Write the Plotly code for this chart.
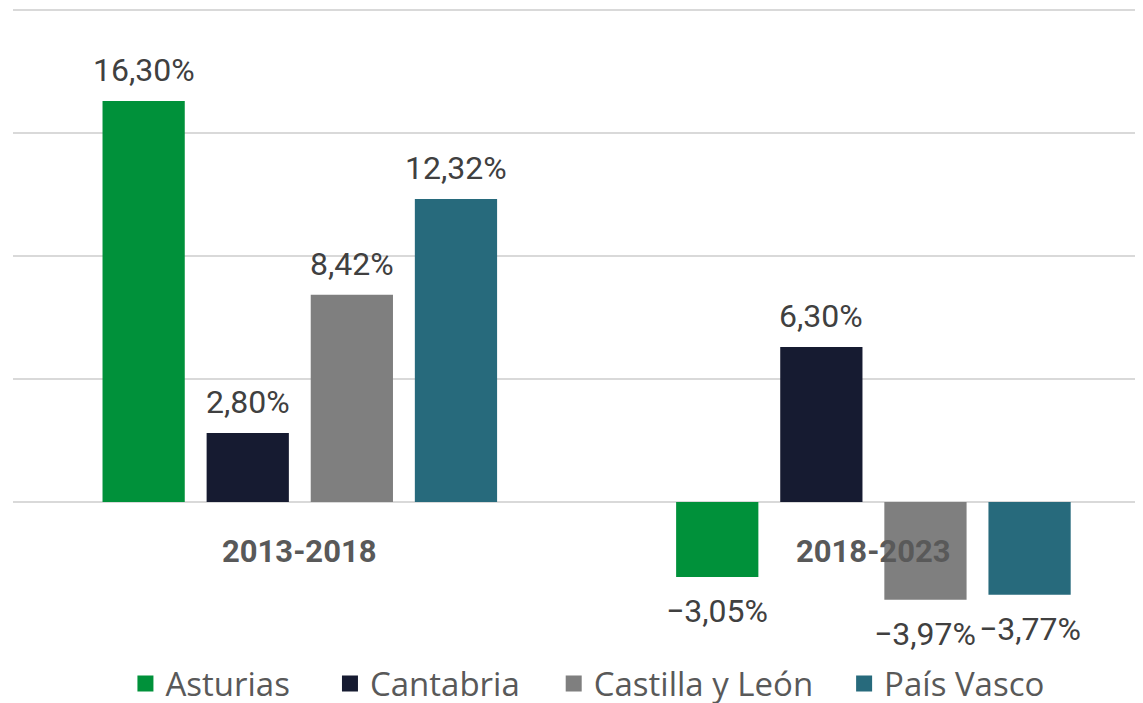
import plotly.graph_objects as go

categories = ["2013-2018", "2018-2023"]
series_names = ["Asturias", "Cantabria", "Castilla y León", "País Vasco"]
asturias = [16.30, -3.05]
cantabria = [2.80, 6.30]
castilla = [8.42, -3.97]
pais_vasco = [12.32, -3.77]
colors = ["#00913A", "#161B31", "#7F7F7F", "#276A7C"]

values = [asturias, cantabria, castilla, pais_vasco]

def fmt(v):
    s = f"{abs(v):.2f}".replace(".", ",") + "%"
    return ("\u2212" + s) if v < 0 else s

FONT = "Roboto"
LFONT = "Open Sans"
BARGAP = 0.274
# page body has an 8px margin, compensate
L, R, T, B = 5, 0, 0, 78
XR = [-0.5, 1.47]
W, H = 1135, 695
cat_px = (W - L - R) / (XR[1] - XR[0])
pitch = cat_px * (1 - BARGAP) / len(series_names)

fig = go.Figure()
for i, (name, vals, col) in enumerate(zip(series_names, values, colors)):
    fig.add_trace(go.Bar(
        x=categories, y=vals, name=name, marker_color=col,
        marker_line_width=0, showlegend=False,
    ))
    for c, v in zip(categories, vals):
        fig.add_annotation(
            x=c, y=v, text=fmt(v), showarrow=False,
            xshift=(i - 1.5) * pitch, yshift=31 if v >= 0 else -34,
            yanchor="middle",
            font=dict(family=FONT, size=32, color="#404040"),
        )

# legend entries (square symbols), one legend per entry to space them
legend_x = [0.0995, 0.2805, 0.4785, 0.7355]
legend_ids = ["legend", "legend2", "legend3", "legend4"]
for i, (name, col, lid) in enumerate(zip(series_names, colors, legend_ids)):
    fig.add_trace(go.Scatter(
        x=[None], y=[None], mode="markers", name=name,
        marker=dict(symbol="square", size=20, color=col, line_width=0),
        showlegend=True, hoverinfo="skip", legend=lid,
    ))

for c in categories:
    fig.add_annotation(x=c, y=-2.0, text=f"<b>{c}</b>", showarrow=False,
                       font=dict(family=FONT, size=31, color="#595959"))

leg_common = dict(orientation="h", xanchor="left", y=-0.095, yanchor="middle",
                  font=dict(family=LFONT, size=33, color="#595959"),
                  bgcolor="rgba(0,0,0,0)", maxheight=120)
fig.update_layout(
    width=W, height=H,
    margin=dict(l=L, r=R, t=T, b=B, autoexpand=False),
    paper_bgcolor="white", plot_bgcolor="white",
    barmode="group", bargap=BARGAP, bargroupgap=0.21,
    showlegend=True,
    legend=dict(x=legend_x[0], **leg_common),
    legend2=dict(x=legend_x[1], **leg_common),
    legend3=dict(x=legend_x[2], **leg_common),
    legend4=dict(x=legend_x[3], **leg_common),
)
fig.update_xaxes(range=XR, showticklabels=False, showgrid=False,
                 zeroline=False, showline=False, ticks="")
fig.update_yaxes(range=[-5, 20.08], dtick=5, showticklabels=False, showgrid=True,
                 gridcolor="#D9D9D9", gridwidth=2, zeroline=True,
                 zerolinecolor="#D9D9D9", zerolinewidth=2, showline=False, ticks="")

fig.write_html("out.html")
